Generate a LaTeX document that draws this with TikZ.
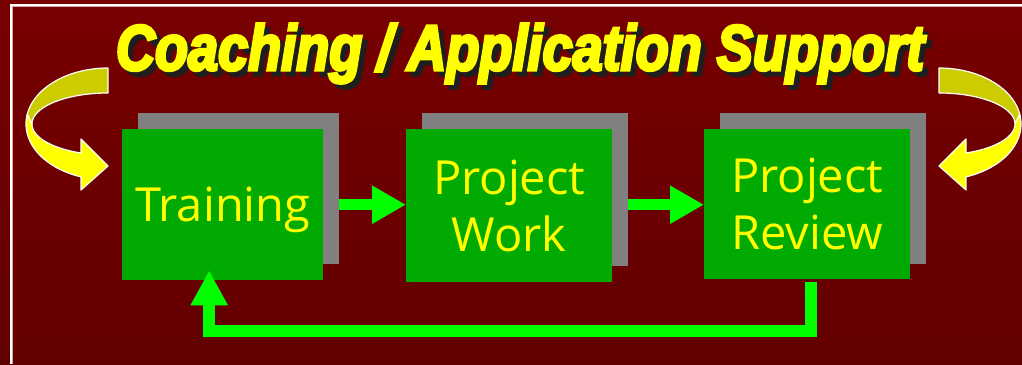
\documentclass[tikz,border=0pt]{standalone}
\usepackage{fontspec}
\newfontfamily\boxfont{Open Sans}
\newfontfamily\titlefont{Liberation Sans}[ItalicFeatures={FakeBold=5}, BoldItalicFeatures={FakeBold=5}]
\usetikzlibrary{arrows.meta}
\definecolor{bgtop}{HTML}{780000}
\definecolor{bgbot}{HTML}{620000}
\definecolor{borderpink}{HTML}{D8A8A8}
\definecolor{boxgreen}{HTML}{00AA00}
\definecolor{shadowgray}{HTML}{808080}
\definecolor{arrowgreen}{HTML}{00FF00}
\definecolor{textyellow}{HTML}{FFFF00}
\definecolor{ribdark}{HTML}{CCCC00}
\definecolor{ribbright}{HTML}{FFFF00}
\definecolor{shadowdark}{HTML}{1E1E1E}
\newcommand\myribbon{%
  \filldraw[ribbonstyle, fill=ribdark]
    plot[domain=270:190, samples=40, variable=\t] ({108+82*cos(\t)},{124+56*sin(\t)})
    -- plot[domain=180:270, samples=40, variable=\t] ({108+76*cos(\t)},{124+31*sin(\t)})
    -- cycle;
  \filldraw[ribbonstyle, fill=ribbright]
    plot[domain=190:109.2, samples=40, variable=\t] ({108+82*cos(\t)},{124+56*sin(\t)})
    -- (81,190) -- (108,166) -- (81,139)
    -- plot[domain=110.8:180, samples=40, variable=\t] ({108+76*cos(\t)},{124+31*sin(\t)})
    -- cycle;
}
\begin{document}
\begin{tikzpicture}[x=1pt,y=-1pt,
  shadowbox/.style={fill=shadowgray, inner sep=0pt, anchor=north west},
  stepbox/.style={fill=boxgreen, text=textyellow, inner sep=0pt, anchor=north west,
    align=center, text depth=0pt, font=\boxfont\fontsize{47}{57}\selectfont},
  flow/.style={draw=arrowgreen, line width=11pt, -{Triangle[length=34pt,width=36pt]}},
  feedback/.style={draw=arrowgreen, line width=12pt, line join=miter, -{Triangle[length=35pt,width=35pt]}},
  titletext/.style={anchor=base, xscale=0.845, inner sep=0pt,
    font=\titlefont\bfseries\itshape\fontsize{64}{64}\selectfont},
  ribbonstyle/.style={draw=white, line width=1.2pt, line join=round}]
\useasboundingbox (0,0) rectangle (1022,364);
\shade[top color=bgtop, bottom color=bgbot] (0,0) rectangle (1022,364);
% border
\draw[white, line width=1.6pt] (1022,4.8) -| (10.8,364);
\draw[borderpink, line width=0.8pt] (1022,6.8) -| (12.8,364);
% title
\node[titletext, text=shadowdark] (titleshadow) at (525,75) {Coaching / Application Support};
\node[titletext, text=textyellow] (title) at (520,70) {Coaching / Application Support};
% curved arrows
\myribbon
\begin{scope}[xshift=1047pt, xscale=-1]
\myribbon
\end{scope}
% boxes
\node[shadowbox, minimum width=201pt, minimum height=151pt] (trs) at (138,113) {};
\node[stepbox, minimum width=201pt, minimum height=151pt] (tr) at (122,129) {Training};
\node[shadowbox, minimum width=206pt, minimum height=153pt] (pws) at (422,113) {};
\node[stepbox, minimum width=206pt, minimum height=153pt] (pw) at (406,129) {Project\\Work};
\node[shadowbox, minimum width=206pt, minimum height=151pt] (prs) at (720,113) {};
\node[stepbox, minimum width=206pt, minimum height=150pt] (pr) at (704,129) {Project\\Review};
% flow arrows
\draw[flow] (trs.east |- tr.east) -- (pw.west |- tr.east);
\draw[flow] (pws.east |- tr.east) -- (pr.west |- tr.east);
% feedback
\draw[feedback] ([xshift=4pt,yshift=-3pt]pr.south) -- ++(0,49) -| ([xshift=-13.5pt,yshift=10pt]tr.south);
\end{tikzpicture}
\end{document}
